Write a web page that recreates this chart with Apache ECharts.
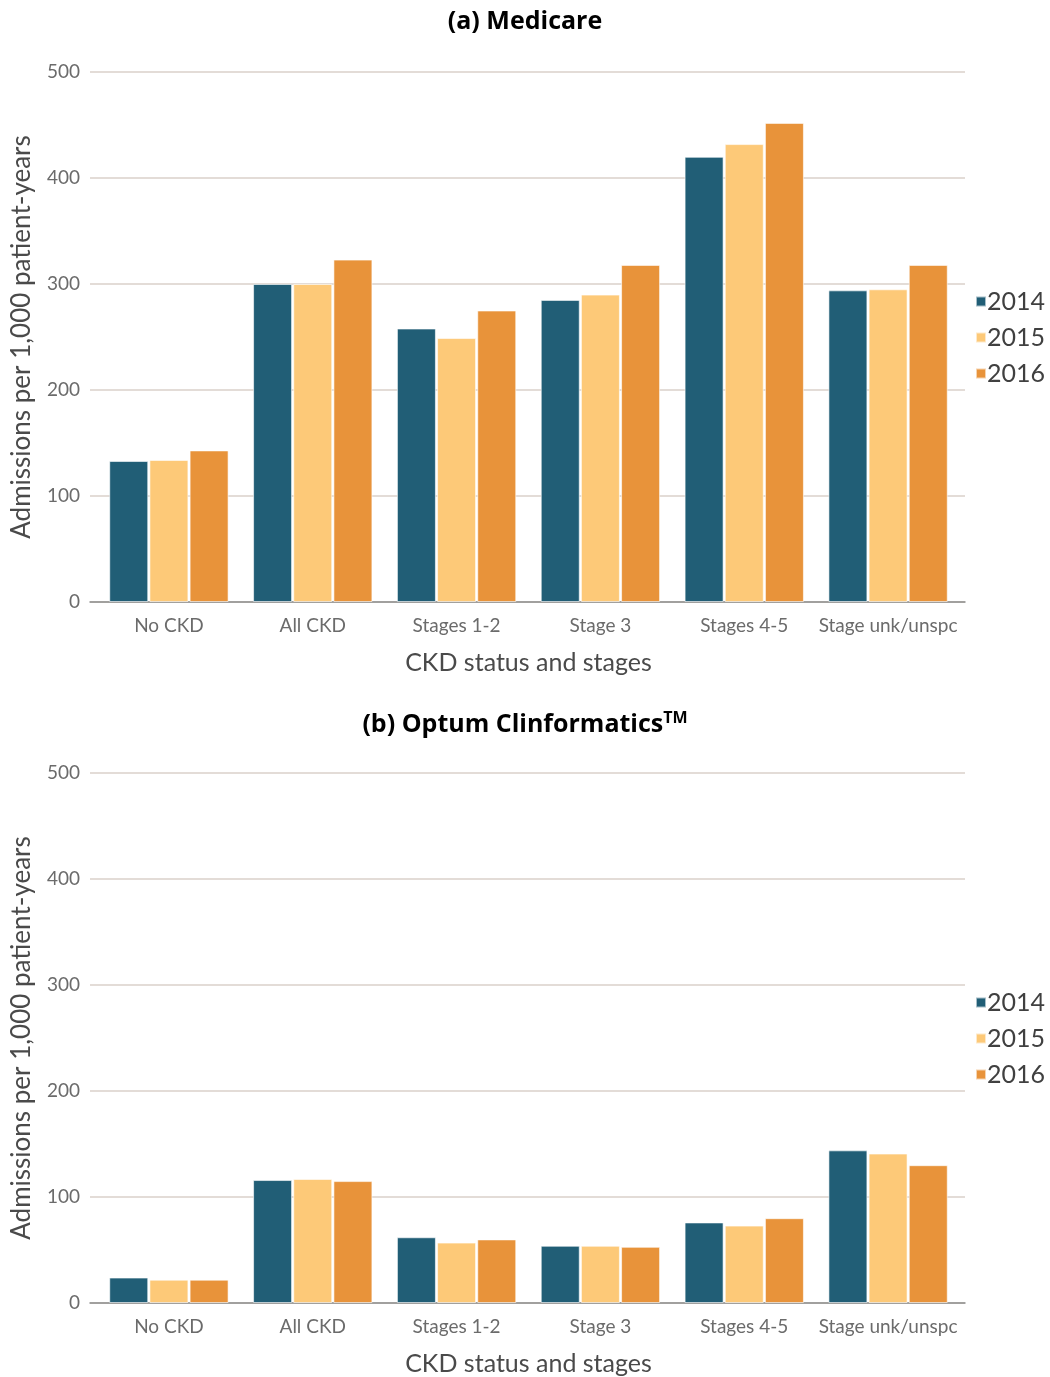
<!DOCTYPE html>
<html>
<head>
<meta charset="utf-8">
<script src="https://cdn.jsdelivr.net/npm/echarts@6/dist/echarts.min.js"></script>
<style>
  html, body { margin: 0; padding: 0; background: #ffffff; }
  #chart { width: 1050px; height: 1377px; }
</style>
</head>
<body>
<div id="chart"></div>
<script>
// CKD status categories
const categories = ['No CKD', 'All CKD', 'Stages 1-2', 'Stage 3', 'Stages 4-5', 'Stage unk/unspc'];
const years = ['2014', '2015', '2016'];
const yTicks = [0, 100, 200, 300, 400, 500];

// (a) Medicare admissions per 1,000 patient-years
const medicare2014 = [133, 300, 258, 285, 420, 294];
const medicare2015 = [134, 300, 249, 290, 432, 295];
const medicare2016 = [143, 323, 275, 318, 452, 318];

// (b) Optum Clinformatics admissions per 1,000 patient-years
const optum2014 = [24, 116, 62, 54, 76, 144];
const optum2015 = [22, 117, 57, 54, 73, 141];
const optum2016 = [22, 115, 60, 53, 80, 130];

const colors = ['#215E76', '#FDC978', '#E8933A'];
const FONT = 'Lato, "Open Sans", sans-serif';
const yMin = yTicks[0], yMax = yTicks[yTicks.length - 1];

const chart = echarts.init(document.getElementById('chart'), null, { renderer: 'canvas' });

// Bar plotting areas (indices 0, 1) and slightly wider backdrop areas
// carrying the gridlines and baseline (indices 2, 3).
const tops = [72, 773];
const grids = [
  ...tops.map(t => ({ left: 97, width: 863, top: t, height: 530, outerBoundsMode: 'none', containLabel: false })),
  ...tops.map(t => ({ left: 90, width: 875, top: t, height: 530, outerBoundsMode: 'none', containLabel: false }))
];

const xAxes = [0, 1].map(i => ({
  type: 'category', gridIndex: i, data: categories,
  axisTick: { show: false }, axisLine: { show: false },
  axisLabel: { color: '#6B6B6B', fontSize: 19, fontFamily: FONT, margin: 14, interval: 0 },
  name: 'CKD status and stages', nameLocation: 'middle', nameGap: 48,
  nameTextStyle: { color: '#4A4A4A', fontSize: 25, fontFamily: FONT }
})).concat([2, 3].map(i => ({
  type: 'category', gridIndex: i, data: categories,
  axisTick: { show: false }, axisLabel: { show: false },
  axisLine: { lineStyle: { color: '#8C8C8C', width: 1.5 } }
})));

const yAxes = [0, 1].map(i => ({
  type: 'value', gridIndex: i, min: yMin, max: yMax, interval: 100,
  axisLine: { show: false }, axisTick: { show: false }, splitLine: { show: false },
  axisLabel: { color: '#6B6B6B', fontSize: 19, fontFamily: FONT, margin: 17 },
  name: 'Admissions per 1,000 patient-years', nameLocation: 'middle', nameGap: 62,
  nameTextStyle: { color: '#4A4A4A', fontSize: 26, fontFamily: FONT }
})).concat([2, 3].map(i => ({
  type: 'value', gridIndex: i, min: yMin, max: yMax, interval: 100,
  axisLine: { show: false }, axisTick: { show: false }, axisLabel: { show: false },
  splitLine: { lineStyle: { color: '#DAD0CA', width: 1.5 } }
})));

function barSeries(name, data, idx, color) {
  return {
    name: name, type: 'bar', data: data, xAxisIndex: idx, yAxisIndex: idx,
    barWidth: 39, barGap: '3%', z: 3,
    itemStyle: { color: color, borderColor: 'rgba(255,255,255,0.6)', borderWidth: 1 },
    emphasis: { disabled: true }
  };
}
function legend(top) {
  return {
    data: years, orient: 'vertical', left: 970, top: top,
    itemWidth: 10, itemHeight: 10, itemGap: 11, icon: 'rect',
    textStyle: { color: '#404040', fontSize: 25, fontFamily: FONT, padding: [0, 0, 0, -4] }
  };
}

chart.setOption({
  animation: false,
  color: colors,
  title: [
    { text: '(a) Medicare', left: 'center', top: 4,
      textStyle: { fontSize: 25, fontWeight: 'bold', color: '#000', fontFamily: '"Open Sans", sans-serif' } },
    { text: '(b) Optum Clinformatics{sup|TM}', left: 'center', top: 705,
      textStyle: { fontSize: 25, fontWeight: 'bold', color: '#000', fontFamily: '"Open Sans", sans-serif',
        rich: { sup: { fontSize: 16, fontWeight: 'bold', color: '#000', fontFamily: '"Open Sans", sans-serif', verticalAlign: 'top', padding: [0, 0, 14, 0] } } } }
  ],
  legend: [legend(284), legend(985)],
  grid: grids,
  xAxis: xAxes,
  yAxis: yAxes,
  series: [
    barSeries('2014', medicare2014, 0, colors[0]),
    barSeries('2015', medicare2015, 0, colors[1]),
    barSeries('2016', medicare2016, 0, colors[2]),
    barSeries('2014', optum2014, 1, colors[0]),
    barSeries('2015', optum2015, 1, colors[1]),
    barSeries('2016', optum2016, 1, colors[2])
  ]
});
</script>
</body>
</html>
